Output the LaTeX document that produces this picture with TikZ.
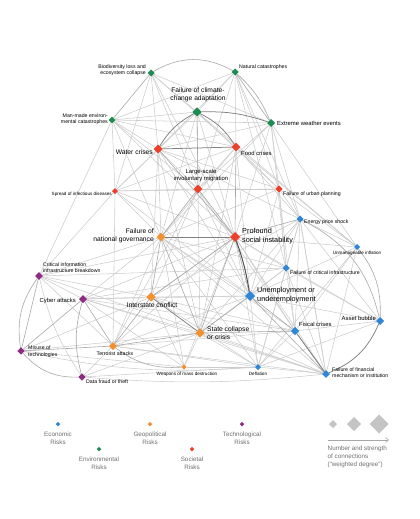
\documentclass[tikz,border=0pt]{standalone}
\usepackage{fontspec}
\setmainfont{Liberation Sans}
\usetikzlibrary{shapes.geometric,backgrounds,arrows.meta}
\definecolor{eco}{HTML}{2F86D4}
\definecolor{env}{HTML}{1E8C50}
\definecolor{geo}{HTML}{F39131}
\definecolor{soct}{HTML}{EC402A}
\definecolor{tec}{HTML}{8E2C84}
\definecolor{lgd}{HTML}{6E6E6E}
\definecolor{lgdia}{HTML}{C4C4C4}
\tikzset{
  rk/.style={diamond, inner sep=0pt, outer sep=0pt, draw=none, minimum size=#1},
  lb/.style={inner sep=0pt, text=black},
  fA/.style={font=\fontsize{4.6}{5.6}\selectfont},
  fB/.style={font=\fontsize{5.2}{6.6}\selectfont},
  fC/.style={font=\fontsize{5.9}{7.2}\selectfont},
  fD/.style={font=\fontsize{6.7}{8}\selectfont},
  fE/.style={font=\fontsize{7.3}{8.8}\selectfont},
  lgtext/.style={inner sep=0pt, text=lgd, font=\fontsize{6.3}{8.2}\selectfont, align=center},
  e1/.style={draw=black!20, line width=0.55pt},
  e2/.style={draw=black!34, line width=0.6pt},
  e3/.style={draw=black!50, line width=0.75pt},
  e4/.style={draw=black!68, line width=1pt},
}
\begin{document}
\begin{tikzpicture}[x=1pt,y=-1pt]
\useasboundingbox (0,0) rectangle (420,519);
% ---------------- nodes ----------------
\node[rk=7pt, fill=env] (bio) at (151,73) {};
\node[rk=7pt, fill=env] (nat) at (235,72) {};
\node[rk=9.3pt, fill=env] (clim) at (197,112) {};
\node[rk=6.7pt, fill=env] (man) at (112,120) {};
\node[rk=8pt, fill=env] (ext) at (271,123) {};
\node[rk=9pt, fill=soct] (wat) at (158,149) {};
\node[rk=8.7pt, fill=soct] (food) at (236,147) {};
\node[rk=8.7pt, fill=soct] (mig) at (198,189) {};
\node[rk=6pt, fill=soct] (inf) at (115,191) {};
\node[rk=7.3pt, fill=soct] (urb) at (279,189) {};
\node[rk=7pt, fill=eco] (ene) at (300,219) {};
\node[rk=6pt, fill=eco] (infl) at (357,247) {};
\node[rk=10pt, fill=soct] (soc) at (235,237) {};
\node[rk=8.7pt, fill=geo] (gov) at (161,237) {};
\node[rk=7.7pt, fill=tec] (cii) at (39,276) {};
\node[rk=7pt, fill=eco] (fci) at (286,268) {};
\node[rk=8pt, fill=tec] (cyb) at (83,299) {};
\node[rk=9.3pt, fill=geo] (isc) at (151,297) {};
\node[rk=9.3pt, fill=geo] (sta) at (200,333) {};
\node[rk=8pt, fill=geo] (ter) at (113,346) {};
\node[rk=7.3pt, fill=tec] (mis) at (21,351) {};
\node[rk=5.3pt, fill=geo] (wmd) at (184,367) {};
\node[rk=7.3pt, fill=tec] (dat) at (82,377) {};
\node[rk=10pt, fill=eco] (une) at (250,296) {};
\node[rk=8.3pt, fill=eco] (fis) at (295,331) {};
\node[rk=8pt, fill=eco] (ass) at (380,321) {};
\node[rk=6pt, fill=eco] (def) at (258,367) {};
\node[rk=7.7pt, fill=eco] (fin) at (326,374) {};
% ---------------- edges ----------------
\begin{pgfonlayer}{background}
\foreach \a/\b in {bio/clim,bio/ext,bio/wat,bio/food,bio/mig,bio/soc,bio/inf,
  nat/clim,nat/man,nat/wat,nat/food,nat/urb,nat/fci,nat/mig,nat/ene,
  clim/man,clim/mig,clim/soc,clim/gov,clim/urb,clim/inf,clim/infl,
  man/ext,man/wat,man/food,man/inf,man/cii,man/gov,man/soc,man/mig,
  ext/wat,ext/urb,ext/fci,ext/ene,ext/mig,ext/soc,ext/infl,ext/gov,
  wat/mig,wat/inf,wat/gov,wat/isc,wat/sta,wat/urb,wat/ene,wat/une,
  food/mig,food/urb,food/ene,food/infl,food/gov,food/sta,food/inf,food/une,
  mig/isc,mig/sta,mig/inf,mig/urb,mig/une,mig/ter,mig/fis,
  inf/gov,inf/soc,inf/urb,inf/cii,inf/ter,inf/une,
  urb/fci,urb/ene,urb/gov,urb/une,urb/infl,urb/fis,
  ene/infl,ene/fci,ene/une,ene/fis,ene/def,ene/sta,ene/isc,ene/fin,
  infl/fis,infl/une,infl/def,infl/soc,infl/fin,
  soc/isc,soc/ter,soc/fis,soc/fci,soc/cyb,soc/def,soc/fin,soc/wmd,
  gov/ter,gov/une,gov/fis,gov/cii,gov/cyb,gov/wmd,gov/fci,gov/fin,gov/def,
  cii/cyb,cii/fci,cii/soc,cii/isc,cii/ter,cii/fin,
  fci/une,fci/fis,fci/sta,fci/cyb,fci/def,fci/fin,fci/ass,
  cyb/isc,cyb/sta,cyb/fin,cyb/une,cyb/fis,
  isc/wmd,isc/une,isc/fis,isc/mis,isc/fin,isc/def,
  sta/wmd,sta/def,sta/fin,sta/mis,sta/dat,
  ter/dat,ter/fin,ter/une,ter/fis,
  mis/wmd,dat/def,une/ass,une/def,fis/ass,fis/def,ass/def,def/fin,
  ass/ene,ass/soc,fin/ene,wmd/def,cyb/wmd,ter/def}
  \draw[e1] (\a) -- (\b);
\foreach \a/\b in {bio/man,nat/ext,clim/mig,wat/soc,food/soc,mig/soc,mig/gov,
  gov/isc,gov/sta,soc/sta,isc/ter,sta/ter,sta/une,sta/fis,ter/mis,cyb/ter,cyb/mis,
  une/fis,fis/fin,une/fin,soc/une,isc/soc,cii/mis,ene/soc}
  \draw[e2] (\a) -- (\b);
\draw[e2] (bio) to[bend left=30] (nat);
\draw[e2] (nat) to[bend left=12] (ext);
\draw[e2] (ene) to[bend left=25] (ass);
\draw[e2] (infl) to[bend left=20] (ass);
\draw[e3] (ass) to[bend left=22] (fin);
\draw[e2] (cii) to[bend right=22] (mis);
\draw[e2] (mis) to[bend right=25] (dat);
\draw[e2] (cyb) to[bend right=15] (dat);
\draw[e1] (cii) to[bend right=10] (dat);
\draw[e2] (ter) to[bend right=20] (wmd);
\draw[e1] (dat) to[bend right=5] (fin);
\draw[e1] (mis) to[bend right=8] (def);
\draw[e3] (clim) to[bend left=10] (ext);
\draw[e3] (clim) to[bend right=15] (wat);
\draw[e3] (clim) to[bend left=15] (food);
\draw[e3] (wat) -- (food);
\draw[e3] (gov) -- (soc);
\draw[e3] (isc) -- (sta);
\draw[e3] (fis) -- (fin);
\draw[e4] (soc) to[bend left=5] (une);
\end{pgfonlayer}
% ---------------- labels ----------------
\node[lb,fB,anchor=east,align=right] (bioL) at (146,70) {Biodiversity loss and\\ecosystem collapse};
\node[lb,fB,anchor=west] (natL) at (239,67) {Natural catastrophes};
\node[lb,fD,anchor=south,align=center] (climL) at (198,102) {Failure of climate-\\change adaptation};
\node[lb,fB,anchor=east,align=right] (manL) at (108,119) {Man-made environ-\\mental catastrophes};
\node[lb,fC,anchor=west] (extL) at (277,123) {Extreme weather events};
\node[lb,fD,anchor=east] (watL) at (153,152) {Water crises};
\node[lb,fC,anchor=west] (foodL) at (241,153) {Food crises};
\node[lb,fC,anchor=south,align=center] (migL) at (201,182) {Large-scale\\involuntary migration};
\node[lb,fA,anchor=east] (infL) at (112,194) {Spread of infectious diseases};
\node[lb,fB,anchor=west] (urbL) at (283,194) {Failure of urban planning};
\node[lb,fB,anchor=west] (eneL) at (304,222) {Energy price shock};
\node[lb,fA,anchor=north] (inflL) at (357,251) {Unmanageable inflation};
\node[lb,fE,anchor=west,align=left] (socL) at (242,236) {Profound\\social instability};
\node[lb,fD,anchor=east,align=right] (govL) at (154,236) {Failure of\\national governance};
\node[lb,fB,anchor=west,align=left] (ciiL) at (43,267.5) {Critical information\\infrastructure breakdown};
\node[lb,fB,anchor=west] (fciL) at (290,273) {Failure of critical infrastructure};
\node[lb,fC,anchor=east] (cybL) at (76,301) {Cyber attacks};
\node[lb,fD,anchor=north] (iscL) at (152,302.5) {Interstate conflict};
\node[lb,fD,anchor=west,align=left] (staL) at (207,333) {State collapse\\or crisis};
\node[lb,fB,anchor=north] (terL) at (115,352) {Terrorist attacks};
\node[lb,fB,anchor=west,align=left] (misL) at (28,351.5) {Misuse of\\technologies};
\node[lb,fA,anchor=north] (wmdL) at (187,372) {Weapons of mass destruction};
\node[lb,fB,anchor=west] (datL) at (86,382) {Data fraud or theft};
\node[lb,fE,anchor=west,align=left] (uneL) at (257,295) {Unemployment or\\underemployment};
\node[lb,fC,anchor=west] (fisL) at (299,324) {Fiscal crises};
\node[lb,fC,anchor=east] (assL) at (376,318) {Asset bubble};
\node[lb,fA,anchor=north] (defL) at (258,372) {Deflation};
\node[lb,fB,anchor=west,align=left] (finL) at (332,372.5) {Failure of financial\\mechanism or institution};
% ---------------- legend ----------------
\node[rk=4.5pt, fill=eco] (lgEco) at (58,424) {};
\node[rk=4.5pt, fill=env] (lgEnv) at (99,449) {};
\node[rk=4.5pt, fill=geo] (lgGeo) at (150,424) {};
\node[rk=4.5pt, fill=soct] (lgSoc) at (192,449) {};
\node[rk=4.5pt, fill=tec] (lgTec) at (242,424) {};
\node[lgtext,anchor=north] (lgEcoT) at (58,432) {Economic\\Risks};
\node[lgtext,anchor=north] (lgEnvT) at (99,457) {Environmental\\Risks};
\node[lgtext,anchor=north] (lgGeoT) at (150,432) {Geopolitical\\Risks};
\node[lgtext,anchor=north] (lgSocT) at (192,457) {Societal\\Risks};
\node[lgtext,anchor=north] (lgTecT) at (242,432) {Technological\\Risks};
\node[rk=8pt, fill=lgdia] (lgS) at (333,424) {};
\node[rk=14pt, fill=lgdia] (lgM) at (354,424) {};
\node[rk=19pt, fill=lgdia] (lgL) at (379,424) {};
\coordinate (arS) at (328,440);
\coordinate (arE) at (389,440);
\draw[draw=lgdia!85!black, line width=0.6pt, -{Straight Barb[length=3pt,width=5pt]}] (arS) -- (arE);
\node[lgtext,anchor=north west,align=left] (lgNum) at (327.5,445.5) {Number and strength\\of connections\\(“weighted degree”)};
\end{tikzpicture}
\end{document}
